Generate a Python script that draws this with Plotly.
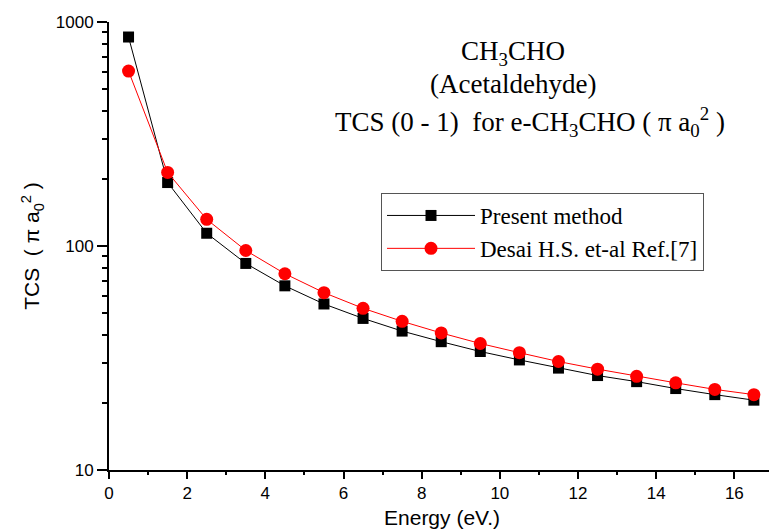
import plotly.graph_objects as go

energy = [0.5, 1.5, 2.5, 3.5, 4.5, 5.5, 6.5, 7.5, 8.5, 9.5, 10.5, 11.5, 12.5, 13.5, 14.5, 15.5, 16.5]
present = [857, 192, 114, 83.6, 66.4, 55.1, 47.5, 41.7, 37.4, 33.8, 31.0, 28.5, 26.4, 24.8, 23.1, 21.7, 20.5]
desai = [604, 213, 131.5, 95.5, 75.2, 61.9, 52.7, 46.1, 40.9, 36.7, 33.4, 30.5, 28.2, 26.2, 24.5, 22.9, 21.7]
x_ticks = [0, 2, 4, 6, 8, 10, 12, 14, 16]
x_minor_ticks = [1, 3, 5, 7, 9, 11, 13, 15, 17]
y_ticks = [10, 100, 1000]
y_minor_ticks = [20, 30, 40, 50, 60, 70, 80, 90, 200, 300, 400, 500, 600, 700, 800, 900]

serif = "Liberation Serif"
sans = "Liberation Sans"

# page body has an 8px margin: compensate so the plot area lands where the reference has it
OFF = 8
L, R, T, B = 109, 775, 22, 470  # plot area in window pixels
W, H = 777, 532
pw, ph = R - L, B - T


def px(xw):
    return (xw - L) / pw


def py(yw):
    return (B - yw) / ph


X_RANGE = [0, 17.04]
Y_RANGE = [1, 3.0]

fig = go.Figure()
fig.add_trace(go.Scatter(
    x=energy, y=present, mode="lines+markers", name="Present method",
    line=dict(color="black", width=1),
    marker=dict(symbol="square", size=11, color="black"),
))
fig.add_trace(go.Scatter(
    x=energy, y=desai, mode="lines+markers", name="Desai H.S. et-al Ref.[7]",
    line=dict(color="red", width=1),
    marker=dict(symbol="circle", size=13, color="red"),
))
# invisible companion trace so that the minor-tick overlay axes get drawn
fig.add_trace(go.Scatter(
    x=energy, y=present, mode="markers", xaxis="x2", yaxis="y2",
    marker=dict(opacity=0), showlegend=False, hoverinfo="skip",
))

fig.update_layout(
    template="simple_white",
    width=W, height=H,
    margin=dict(l=L - OFF, r=W - (R - OFF), t=T - OFF, b=H - (B - OFF), autoexpand=False),
    font=dict(family=sans, size=17, color="black"),
    paper_bgcolor="white", plot_bgcolor="white",
    showlegend=True,
    legend=dict(
        x=px(381), y=py(193), xanchor="left", yanchor="top",
        bgcolor="white", bordercolor="#555555", borderwidth=1,
        font=dict(family=serif, size=23, color="black"),
        itemwidth=88, tracegroupgap=0,
    ),
    xaxis=dict(
        range=X_RANGE, tickmode="array", tickvals=x_ticks, ticks="outside", ticklen=7, tickwidth=2,
        tickcolor="black", showline=True, linecolor="black", linewidth=2,
        title=dict(text="Energy (eV.)", font=dict(size=21), standoff=8),
    ),
    yaxis=dict(
        type="log", range=Y_RANGE, tickmode="array", tickvals=y_ticks, ticks="outside", ticklen=10,
        tickwidth=2, tickcolor="black", showline=True, linecolor="black", linewidth=2,
        title=dict(text="TCS  ( π a<sub>0</sub><sup>2</sup> )", font=dict(size=21), standoff=10),
    ),
    xaxis2=dict(
        overlaying="x", anchor="y2", side="bottom", range=X_RANGE, tickmode="array", tickvals=x_minor_ticks,
        ticks="outside", ticklen=4, tickwidth=2, tickcolor="black", showticklabels=False, showline=False,
    ),
    yaxis2=dict(
        overlaying="y", anchor="x2", side="left", type="log", range=Y_RANGE, tickmode="array",
        tickvals=y_minor_ticks, ticks="outside", ticklen=6, tickwidth=2, tickcolor="black",
        showticklabels=False, showline=False,
    ),
)

ann_font = dict(family=serif, size=27, color="black")
fig.add_annotation(xref="paper", yref="paper", x=px(513), y=py(53), xanchor="center", yanchor="middle",
                   text="CH<sub>3</sub>CHO", showarrow=False, font=ann_font)
fig.add_annotation(xref="paper", yref="paper", x=px(513), y=py(84), xanchor="center", yanchor="middle",
                   text="(Acetaldehyde)", showarrow=False, font=ann_font)
fig.add_annotation(xref="paper", yref="paper", x=px(530), y=py(122), xanchor="center", yanchor="middle",
                   text="TCS (0 - 1)  for e-CH<sub>3</sub>CHO ( π a<sub>0</sub><sup>2</sup> )",
                   showarrow=False, font=ann_font)

fig.write_html("out.html")
